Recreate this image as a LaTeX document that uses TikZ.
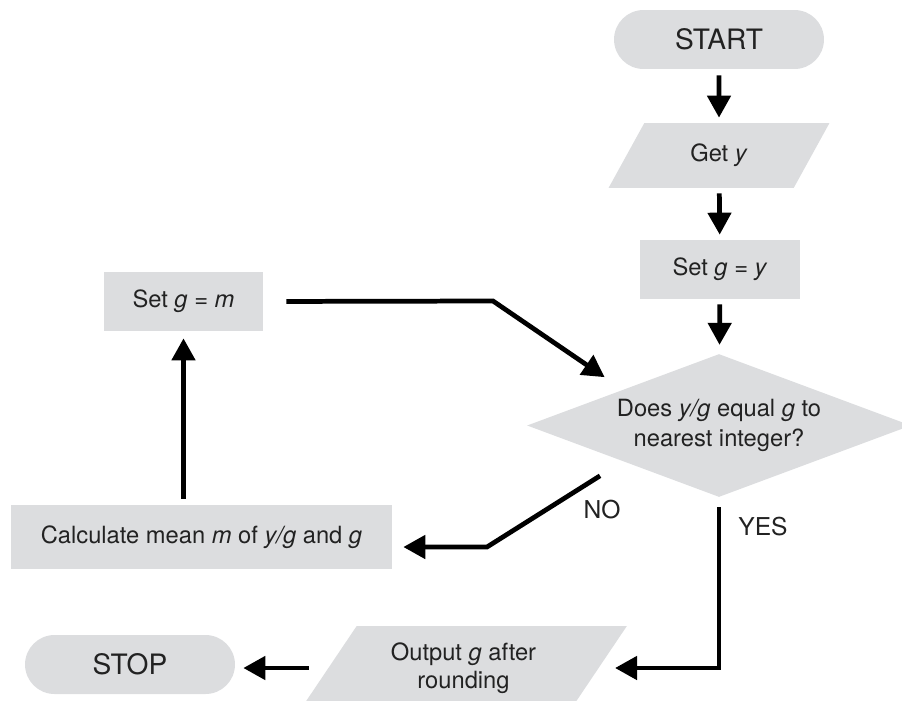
\documentclass[tikz,border=0pt]{standalone}
\usepackage{fontspec}
\setmainfont{TeX Gyre Heros}
\usepackage{tikz}
\usetikzlibrary{shapes.geometric,arrows.meta}

\definecolor{boxgray}{HTML}{DCDDDF}
\definecolor{inkgray}{HTML}{222222}

\begin{document}
\begin{tikzpicture}[x=0.02cm, y=-0.02cm,
        every node/.style={font=\fontsize{13.5}{16}\selectfont, text=inkgray},
        termbox/.style={fill=boxgray, rounded corners=0.59cm, minimum width=4.2cm, minimum height=1.18cm, font=\fontsize{16}{19}\selectfont},
        procbox/.style={fill=boxgray, minimum height=1.18cm},
        iobox/.style={trapezium, trapezium stretches=true, fill=boxgray, inner sep=0pt},
        flow/.style={line width=2.7pt, -{Triangle[length=0.44cm,width=0.46cm]}}]
            % fix the frame of the page
            \useasboundingbox (0,0) rectangle (902,700);
            \clip (0,0) rectangle (902,700);

            % draw boxes
            \node[termbox] (start) at (719,39.5) {START};
            \node[iobox, trapezium left angle=59, trapezium right angle=121, minimum width=4.44cm, minimum height=1.3cm] (gety) at (719,155.5) {Get \textit{y}};
            \node[procbox, minimum width=3.2cm] (setgy) at (720,269.5) {Set \textit{g} = \textit{y}};
            \node[diamond, shape aspect=2.69, fill=boxgray, inner sep=0pt, minimum width=7.68cm, minimum height=2.86cm, align=center, font=\fontsize{13.5}{17}\selectfont] (dec) at (719,425.5) {Does \textit{y/g} equal \textit{g} to\\nearest integer?};
            \node[procbox, minimum width=3.18cm] (setm) at (183.5,301.5) {Set \textit{g} = \textit{m}};
            \node[procbox, minimum width=7.62cm, minimum height=1.28cm] (calc) at (201.5,537) {Calculate mean \textit{m} of \textit{y/g} and \textit{g}};
            \node[iobox, trapezium left angle=53, trapezium right angle=127, minimum width=6.54cm, minimum height=1.68cm, align=center] (out) at (463.5,668) {Output \textit{g} after\\rounding};
            \node[termbox] (stop) at (130,664.5) {STOP};

            % draw labels
            \node[font=\fontsize{14}{17}\selectfont] (no) at (602,510) {NO};
            \node[font=\fontsize{14}{17}\selectfont] (yes) at (763,527) {YES};

            % bends
            \coordinate (j1) at (493,301);
            \coordinate (j2) at (487,547);

            % draw arrows
            \draw[flow, shorten <=0.12cm, shorten >=0.1cm] (start) -- (gety);
            \draw[flow, shorten <=0.1cm, shorten >=0.1cm] (gety) -- (setgy);
            \draw[flow, shorten <=0.1cm, shorten >=0.18cm] (setgy) -- (dec);
            \draw[flow, shorten <=0.46cm, shorten >=0.44cm] (setm.east) -- (j1) -- (dec.north west);
            \draw[flow, shorten <=0.12cm, shorten >=0.14cm] (calc.north -| setm) -- (setm.south);
            \draw[flow, shorten <=0.54cm, shorten >=0.22cm] (dec.south west) -- (j2) -- (j2 -| calc.east);
            \draw[flow, shorten <=0.2cm, shorten >=0.32cm] (dec.south) |- (out.east);
            \draw[flow, shorten <=0.38cm, shorten >=0.16cm] (out.west) -- (out.west -| stop.east);
        \end{tikzpicture}
\end{document}
